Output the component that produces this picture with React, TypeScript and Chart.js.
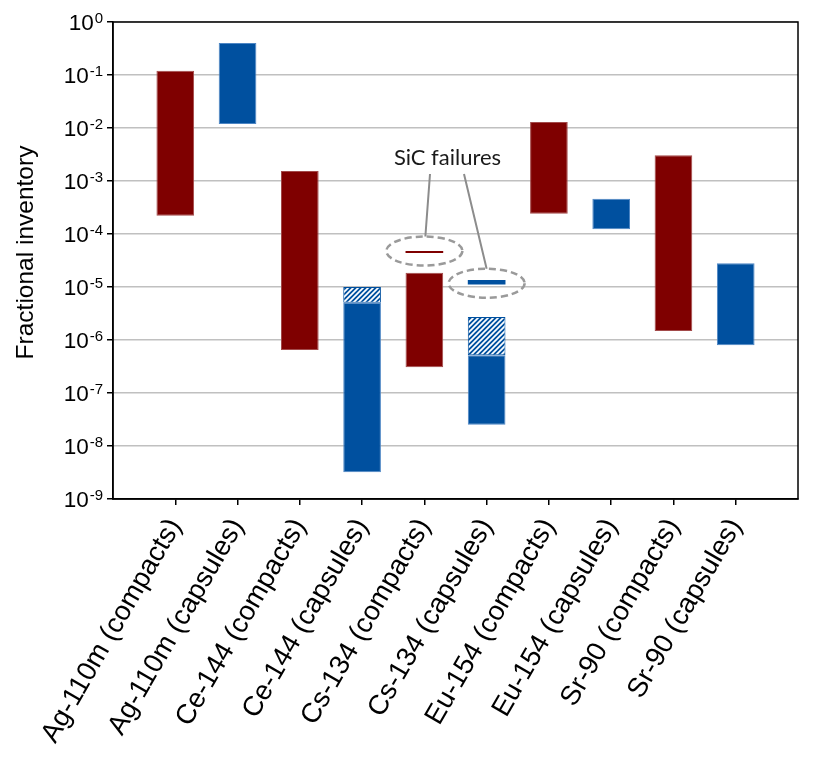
import React, { useEffect, useRef } from 'react';
import { Chart, registerables } from 'chart.js';

Chart.register(...registerables);

type Range = [number, number] | null;

const categories: string[] = [
  'Ag-110m (compacts)',
  'Ag-110m (capsules)',
  'Ce-144 (compacts)',
  'Ce-144 (capsules)',
  'Cs-134 (compacts)',
  'Cs-134 (capsules)',
  'Eu-154 (compacts)',
  'Eu-154 (capsules)',
  'Sr-90 (compacts)',
  'Sr-90 (capsules)',
];

// floating ranges [low, high] of fractional inventory
const compactsRanges: Range[] = [
  [2.2e-4, 0.12], null, [6.5e-7, 1.55e-3], null, [3.05e-7, 1.86e-5],
  null, [2.4e-4, 0.013], null, [1.48e-6, 3.05e-3], null,
];
const capsulesRanges: Range[] = [
  null, [0.0119, 0.4], null, [3.2e-9, 5.06e-6], null,
  [2.52e-8, 5.14e-7], null, [1.23e-4, 4.64e-4], null, [7.94e-7, 2.8e-5],
];
const capsulesHatchedRanges: Range[] = [
  null, null, null, [5.06e-6, 1.0e-5], null,
  [5.14e-7, 2.72e-6], null, null, null, null,
];
// SiC failure markers
const sicCompactsRanges: Range[] = [
  null, null, null, null, [4.38e-5, 4.77e-5],
  null, null, null, null, null,
];
const sicCapsulesRanges: Range[] = [
  null, null, null, null, null,
  [1.12e-5, 1.35e-5], null, null, null, null,
];

const yTickExponents: number[] = [0, -1, -2, -3, -4, -5, -6, -7, -8, -9];
const yTitle = 'Fractional inventory';
const annotationText = 'SiC failures';
const sicCompactsIndex = 4;
const sicCapsulesIndex = 5;

const RED = '#7f0000';
const BLUE = '#00509f';
const FONT = '"Liberation Sans", Arial, sans-serif';

export default function App() {
  const canvasRef = useRef<HTMLCanvasElement | null>(null);

  useEffect(() => {
    const canvas = canvasRef.current;
    if (!canvas) return;
    const ctx = canvas.getContext('2d')!;

    // hatch pattern
    const s = 5;
    const pc = document.createElement('canvas');
    pc.width = s;
    pc.height = s;
    const pg = pc.getContext('2d')!;
    pg.fillStyle = BLUE;
    pg.fillRect(0, 0, s, s);
    pg.strokeStyle = '#ffffff';
    pg.lineWidth = 1.7;
    pg.beginPath();
    pg.moveTo(0, s); pg.lineTo(s, 0);
    pg.moveTo(-s, s); pg.lineTo(s, -s);
    pg.moveTo(0, 2 * s); pg.lineTo(2 * s, 0);
    pg.stroke();
    const hatch = ctx.createPattern(pc, 'repeat')!;

    const labels = ['', ...categories, ''];
    const pad = (arr: Range[]) => [null, ...arr, null];

    const overlay = {
      id: 'overlay',
      afterDraw(chart: any) {
        const c = chart.ctx as CanvasRenderingContext2D;
        const area = chart.chartArea;
        const y = chart.scales.y;
        const x = chart.scales.x;
        c.save();
        // frame
        c.strokeStyle = '#000';
        c.lineWidth = 1.5;
        c.strokeRect(area.left, area.top, area.right - area.left, area.bottom - area.top);

        // y tick labels with superscripts
        c.fillStyle = '#000';
        c.textBaseline = 'alphabetic';
        const xEnd = area.left - 10;
        yTickExponents.forEach((e) => {
          const py = y.getPixelForValue(Math.pow(10, e));
          const expStr = String(e);
          c.font = `15px ${FONT}`;
          c.textAlign = 'right';
          const ew = c.measureText(expStr).width;
          c.fillText(expStr, xEnd, py + 1);
          c.font = `22.5px ${FONT}`;
          c.fillText('10', xEnd - ew - 1, py + 8);
        });

        // y title
        c.save();
        c.translate(18, 244.5);
        c.rotate(-Math.PI / 2);
        c.font = `24.5px ${FONT}`;
        c.textAlign = 'center';
        c.textBaseline = 'middle';
        c.fillText(yTitle, 0, 0);
        c.restore();

        // SiC annotation
        const redX = x.getPixelForValue(sicCompactsIndex + 1);
        const redR = sicCompactsRanges[sicCompactsIndex]!;
        const redY = y.getPixelForValue(Math.sqrt(redR[0] * redR[1])) - 1;
        const bluX = x.getPixelForValue(sicCapsulesIndex + 1);
        const bluR = sicCapsulesRanges[sicCapsulesIndex]!;
        const bluY = y.getPixelForValue(Math.sqrt(bluR[0] * bluR[1])) + 1;
        const rx = 38;
        const ry = 14.5;
        c.strokeStyle = '#9a9a9a';
        c.lineWidth = 2.5;
        c.setLineDash([7, 4]);
        [[redX, redY], [bluX, bluY]].forEach(([ex, ey]) => {
          c.beginPath();
          c.ellipse(ex, ey, rx, ry, 0, 0, Math.PI * 2);
          c.stroke();
        });
        c.setLineDash([]);

        const tx = (redX + bluX) / 2 - 8;
        const ty = 149.5;
        c.strokeStyle = '#8c8c8c';
        c.lineWidth = 2;
        c.beginPath();
        c.moveTo(tx - 17.5, ty + 16.5);
        c.lineTo(redX + 1, redY - ry);
        c.moveTo(tx + 16.5, ty + 16.5);
        c.lineTo(bluX, bluY - ry);
        c.stroke();

        c.fillStyle = '#1a1a1a';
        c.font = `22px Lato, "Open Sans", sans-serif`;
        c.textAlign = 'center';
        c.textBaseline = 'middle';
        c.fillText(annotationText, tx, ty);
        c.restore();
      },
    };

    const chart = new Chart(ctx, {
      type: 'bar',
      data: {
        labels,
        datasets: [
          {
            label: 'compacts',
            data: pad(compactsRanges) as any,
            backgroundColor: RED,
            borderColor: '#a34a4a',
            borderWidth: 1,
            borderSkipped: false,
            stack: 's',
          },
          {
            label: 'capsules',
            data: pad(capsulesRanges) as any,
            backgroundColor: BLUE,
            borderColor: '#4d86c4',
            borderWidth: 1,
            borderSkipped: false,
            stack: 's',
          },
          {
            label: 'capsules (hatched)',
            data: pad(capsulesHatchedRanges) as any,
            backgroundColor: hatch as any,
            borderColor: BLUE,
            borderWidth: 1,
            borderSkipped: false,
            stack: 's',
          },
          {
            label: 'SiC failures (compacts)',
            data: pad(sicCompactsRanges) as any,
            backgroundColor: RED,
            borderWidth: 0,
            stack: 's',
          },
          {
            label: 'SiC failures (capsules)',
            data: pad(sicCapsulesRanges) as any,
            backgroundColor: BLUE,
            borderWidth: 0,
            stack: 's',
          },
        ],
      },
      options: {
        responsive: false,
        animation: false,
        layout: { padding: { top: 14, right: 14, left: 0, bottom: 0 } },
        plugins: {
          legend: { display: false },
          tooltip: { enabled: false },
        },
        datasets: {
          bar: { barPercentage: 0.605, categoryPercentage: 1 },
        } as any,
        scales: {
          x: {
            type: 'category',
            stacked: true,
            offset: false,
            grid: {
              offset: false,
              drawOnChartArea: false,
              drawTicks: true,
              tickLength: 6,
              lineWidth: 1.5,
              tickColor: (c: any) =>
                c.index === 0 || c.index === labels.length - 1 ? 'rgba(0,0,0,0)' : '#000',
            },
            border: { display: true, color: '#000', width: 1.5 },
            ticks: {
              autoSkip: false,
              maxRotation: 60,
              minRotation: 60,
              padding: 8,
              color: '#000',
              font: { family: FONT, size: 27.5 },
            },
            afterFit: (sc: any) => {
              sc.height = 258;
              sc.paddingLeft = 0;
              sc.paddingRight = 0;
            },
          },
          y: {
            type: 'logarithmic',
            min: 1e-9,
            max: 1,
            stacked: false,
            afterBuildTicks: (sc: any) => {
              sc.ticks = yTickExponents.map((e) => ({ value: Math.pow(10, e) }));
            },
            grid: {
              color: '#c0c0c0',
              lineWidth: 1.5,
              drawTicks: true,
              tickLength: 6,
              tickColor: '#000',
            },
            border: { display: true, color: '#000', width: 1.5 },
            ticks: { display: false },
            afterFit: (sc: any) => {
              sc.width = 105;
            },
          },
        },
      },
      plugins: [overlay],
    });

    return () => {
      chart.destroy();
    };
  }, []);

  return (
    <div style={{ width: 804, height: 749, background: '#fff' }}>
      <canvas ref={canvasRef} width={804} height={749} style={{ display: 'block' }} />
    </div>
  );
}
